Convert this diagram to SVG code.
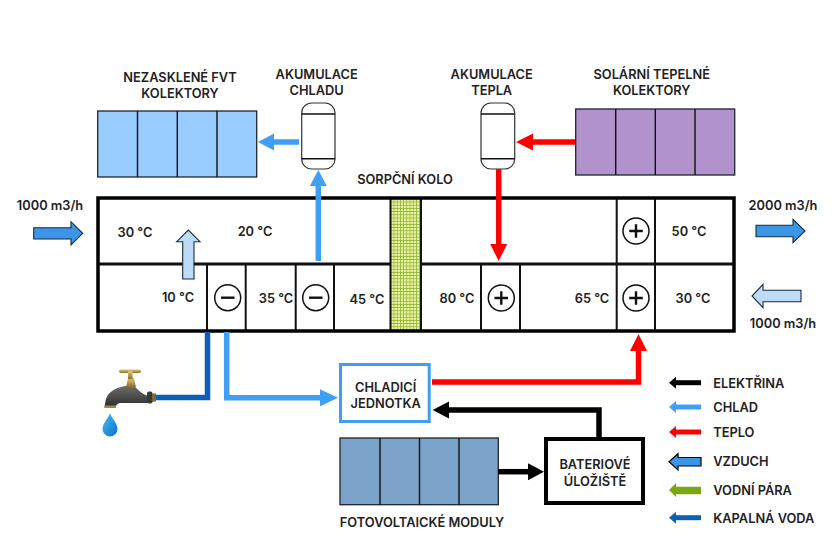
<svg xmlns="http://www.w3.org/2000/svg" width="840" height="560" viewBox="0 0 840 560">
<style>
text{font-family:Inter,"Open Sans","Liberation Sans",sans-serif;font-weight:600;font-size:12.800px;fill:#222;text-anchor:middle}
.lg{text-anchor:start}
.panel{stroke:#1d2530;stroke-width:1.3}
.div{stroke:#111;stroke-width:1.4;fill:none}
.cell{stroke:#111;stroke-width:2;fill:none}
.tank{fill:#fff;stroke:#333;stroke-width:1.2}
.sym{fill:#fff;stroke:#111;stroke-width:1.5}
.symline{stroke:#111;stroke-width:2.4;fill:none}
.air{stroke:#1a2a3a;stroke-width:1.1}
.flow{fill:none;stroke-width:5.5}
</style>
<defs>
<pattern id="mesh" width="3.2" height="3.2" patternUnits="userSpaceOnUse">
<rect width="3.2" height="3.2" fill="#eaf2a8"/>
<path d="M0 0H3.2M0 0V3.2" stroke="#94b52f" stroke-width="1.6" fill="none"/>
</pattern>
<linearGradient id="brass" x1="0" y1="0" x2="0" y2="1"><stop offset="0" stop-color="#e2c878"/><stop offset="1" stop-color="#8a6f2c"/></linearGradient>
<linearGradient id="iron" x1="0" y1="0" x2="0" y2="1"><stop offset="0" stop-color="#6d6d6a"/><stop offset="1" stop-color="#2b2b2b"/></linearGradient>
<linearGradient id="drop" x1="0" y1="0" x2="1" y2="1"><stop offset="0" stop-color="#4cc0f5"/><stop offset="1" stop-color="#0a70c8"/></linearGradient>
</defs>

<g id="fvt-collectors">
<rect class="panel" x="97.700" y="111" width="159" height="66" fill="#99ccff"/>
<path class="div" d="M137.500 111V177M177.300 111V177M217 111V177"/>
<text x="180" y="82">NEZASKLENÉ FVT</text><text x="180" y="98">KOLEKTORY</text>
</g>
<g id="cold-storage">
<rect class="tank" x="301.700" y="103" width="33.300" height="66" rx="10"/>
<path class="div" stroke-width="1" d="M301.700 114H335M301.700 158.700H335"/>
<text x="316.700" y="79">AKUMULACE</text><text x="316.700" y="95">CHLADU</text>
</g>
<g id="heat-storage">
<rect class="tank" x="481" y="103" width="33.700" height="66" rx="10"/>
<path class="div" stroke-width="1" d="M481 114H514.700M481 158.700H514.700"/>
<text x="491.700" y="79">AKUMULACE</text><text x="491.700" y="95">TEPLA</text>
</g>
<g id="solar-collectors">
<rect class="panel" x="575.700" y="109" width="159" height="66" fill="#b292cc"/>
<path class="div" d="M615.700 109V175M655.300 109V175M695 109V175"/>
<text x="651.700" y="79">SOLÁRNÍ TEPELNÉ</text><text x="651.700" y="95">KOLEKTORY</text>
</g>

<g id="air-handling-unit">
<rect x="391" y="198" width="30" height="132" fill="url(#mesh)"/>
<path class="cell" d="M390.500 198V331M421 198V331M207 264V331M245.700 264V331M295.700 264V331M334 264V331M481 264V331M520 264V331M616.700 198V331M655 198V331"/>
<path d="M98 264H390M421 264H734" stroke="#111" stroke-width="3" fill="none"/>
<rect x="98" y="198" width="636" height="133" fill="none" stroke="#000" stroke-width="3.500"/>
<text x="405" y="184">SORPČNÍ KOLO</text>
<text x="135" y="237">30 °C</text><text x="255" y="236">20 °C</text>
<text x="178" y="302">10 °C</text><text x="276" y="303">35 °C</text><text x="367" y="304">45 °C</text>
<text x="457" y="303">80 °C</text><text x="592" y="303">65 °C</text><text x="693" y="303">30 °C</text><text x="689" y="236">50 °C</text>
</g>
<g id="coil-minus-1"><circle class="sym" cx="227.700" cy="297.700" r="13"/><path class="symline" d="M221 297.700H234.500"/></g>
<g id="coil-minus-2"><circle class="sym" cx="315.700" cy="297.700" r="13"/><path class="symline" d="M309 297.700H322.500"/></g>
<g id="coil-plus-1"><circle class="sym" cx="501.300" cy="298" r="13"/><path class="symline" d="M494.500 298H508M501.300 291.300V304.700"/></g>
<g id="coil-plus-2"><circle class="sym" cx="636" cy="298" r="13"/><path class="symline" d="M629.200 298H642.800M636 291.300V304.700"/></g>
<g id="coil-plus-3"><circle class="sym" cx="636" cy="231" r="13"/><path class="symline" d="M629.200 231H642.800M636 224.300V237.700"/></g>

<g id="cooling-unit">
<rect x="340.500" y="364.500" width="88.700" height="57" fill="#fff" stroke="#3f9ff5" stroke-width="3"/>
<text x="385.700" y="391.500">CHLADICÍ</text><text x="385.700" y="408">JEDNOTKA</text>
</g>
<g id="battery">
<rect x="546" y="439" width="97" height="64" fill="#fff" stroke="#000" stroke-width="4"/>
<text x="595" y="469">BATERIOVÉ</text><text x="595" y="486">ÚLOŽIŠTĚ</text>
</g>
<g id="pv-modules">
<rect class="panel" x="340" y="438" width="158.300" height="66.700" fill="#7ba3c9"/>
<path class="div" d="M380 438V504.700M419.500 438V504.700M459 438V504.700"/>
<text x="422" y="526.500">FOTOVOLTAICKÉ MODULY</text>
</g>
<g id="tap">
<path d="M155 395.500H147C140 393 137 388 134 386H125C114 388 107 393 105.500 401L104.500 407.500H116C116 404 118 402.500 123 403H147L155 401z" fill="url(#iron)"/>
<rect x="147" y="391.500" width="5.500" height="12" rx="2" fill="#3a3a34"/>
<rect x="152" y="393.500" width="4" height="8" fill="#7a6a34"/>
<path d="M126 387L128 378H134L136 387z" fill="url(#brass)"/>
<rect x="119" y="369.500" width="22" height="3.500" rx="1.700" fill="url(#brass)"/>
<rect x="128" y="371" width="4.500" height="8" fill="url(#brass)"/>
<rect x="104.500" y="405.500" width="11.500" height="2.500" fill="#a58a3c"/>
<path d="M110 413C108 419 102.500 423 102.500 429A7.500 7.500 0 0 0 117.500 429C117.500 423 112 419 110 413z" fill="url(#drop)"/>
</g>

<g id="connectors">
<path class="flow" stroke="#3f9ff5" d="M299 142H272"/><path fill="#3f9ff5" d="M258 142L274 133.500V150.500z"/>
<path class="flow" stroke="#3f9ff5" d="M318.300 261V184"/><path fill="#3f9ff5" d="M318.300 170L326.800 186H309.800z"/>
<path class="flow" stroke="#f00" d="M575 142H531"/><path fill="#f00" d="M516 142L533 133.500V150.500z"/>
<path class="flow" stroke="#f00" d="M498.700 169V246"/><path fill="#f00" d="M498.700 261L490.200 244H507.200z"/>
<path class="flow" stroke="#0b5fb5" d="M207.500 332V397.500H156"/>
<path class="flow" stroke="#3f9ff5" d="M226.700 332V397.700H324"/><path fill="#3f9ff5" d="M338 397.700L320 389.200V406.200z"/>
<path class="flow" stroke="#f00" d="M432 382H638.500V350"/><path fill="#f00" d="M638.500 334L647 351H630z"/>
<path class="flow" stroke="#000" d="M599 437V410H447"/><path fill="#000" d="M432.700 410L449 401.500V418.500z"/>
<path class="flow" stroke="#000" d="M498 471.700H530"/><path fill="#000" d="M544 471.700L528 463.200V480.200z"/>
<path class="air" fill="#3c96e8" d="M33.700 227.700H71V221.700L82.700 233.300L71 245V239H33.700z"/>
<path class="air" fill="#bddcf8" d="M182.700 279V241.700H176.700L188.300 230L200 241.700H194V279z"/>
<path class="air" fill="#3c96e8" d="M756 225.300H793V219.300L805 231L793 242.700V236.700H756z"/>
<path class="air" fill="#bddcf8" d="M801 290.300H763V284.300L752 296L763 307.700V301.700H801z"/>
</g>

<g id="legend">
<path d="M701 382.700H675" stroke="#000" stroke-width="5"/><path d="M669 382.700L676 376.700V388.700z" fill="#000"/>
<path d="M701 407H675" stroke="#3f9ff5" stroke-width="5"/><path d="M669 407L676 401V413z" fill="#3f9ff5"/>
<path d="M701 432H675" stroke="#f00" stroke-width="5"/><path d="M669 432L676 426V438z" fill="#f00"/>
<path d="M701 457.500H678V453.700L669 461.700L678 470V466H701z" fill="#3c96e8" stroke="#000" stroke-width="1.200"/>
<path d="M701 486.700H676V483L669 490L676 497V494.300H701z" fill="#7da712"/>
<path d="M701 517.700H675" stroke="#0b5fb5" stroke-width="5"/><path d="M669 517.700L676 511.700V523.700z" fill="#0b5fb5"/>
<text class="lg" x="713.300" y="387.500">ELEKTŘINA</text>
<text class="lg" x="713.300" y="412">CHLAD</text>
<text class="lg" x="713.300" y="437">TEPLO</text>
<text class="lg" x="713.300" y="466">VZDUCH</text>
<text class="lg" x="713.300" y="495">VODNÍ PÁRA</text>
<text class="lg" x="713.300" y="523">KAPALNÁ VODA</text>
</g>
<g id="flow-labels">
<text x="50" y="210">1000 m3/h</text>
<text x="783" y="210">2000 m3/h</text>
<text x="783" y="328">1000 m3/h</text>
</g>
</svg>
